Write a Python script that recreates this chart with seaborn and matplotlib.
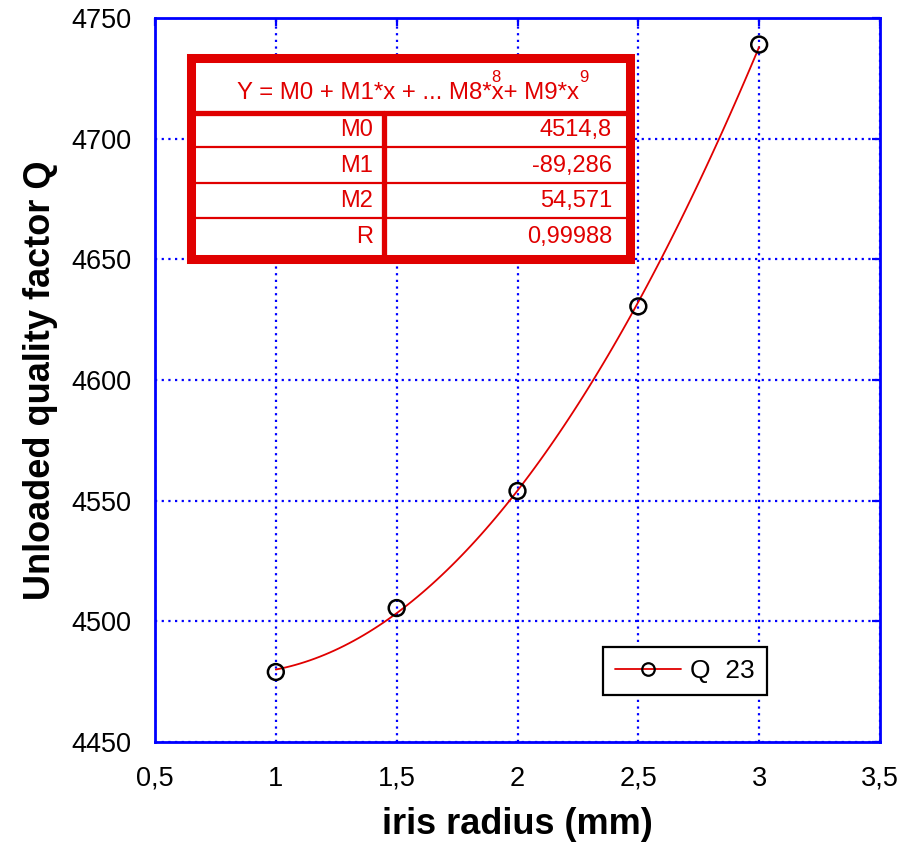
import numpy as np
import pandas as pd
import matplotlib
matplotlib.use("Agg")
import matplotlib.pyplot as plt
from matplotlib.lines import Line2D
from matplotlib.patches import Rectangle
import seaborn as sns

# ---- data ----
iris_radius = [1.0, 1.5, 2.0, 2.5, 3.0]
q_values = [4479.0, 4505.5, 4554.0, 4630.5, 4739.0]
series_name = "Q  23"
fit_labels = ["M0", "M1", "M2", "R"]
fit_values = ["4514,8", "-89,286", "54,571", "0,99988"]
x_ticks = [0.5, 1.0, 1.5, 2.0, 2.5, 3.0, 3.5]
x_ticklabels = ["0,5", "1", "1,5", "2", "2,5", "3", "3,5"]
y_ticks = [4450, 4500, 4550, 4600, 4650, 4700, 4750]

df = pd.DataFrame({"x": iris_radius, "y": q_values})

sns.set_theme(style="white")
plt.rcParams["font.family"] = ["Liberation Sans", "DejaVu Sans"]
plt.rcParams["text.color"] = "black"
plt.rcParams["axes.labelcolor"] = "black"

W, H = 899, 843
fig = plt.figure(figsize=(W / 100, H / 100), dpi=100)
ax = fig.add_axes([155 / W, 1 - 742 / H, (880 - 155) / W, (742 - 18) / H])

BLUE = "#0000ff"
RED = "#e00000"

# fitted curve (2nd order polynomial) through library
sns.regplot(data=df, x="x", y="y", order=2, ci=None, scatter=False, ax=ax,
            line_kws=dict(color=RED, lw=1.3, zorder=3))
sns.scatterplot(data=df, x="x", y="y", ax=ax, marker="o", s=130,
                facecolor="none", edgecolor="black", linewidth=1.8, zorder=4)

ax.set_xlim(0.5, 3.5)
ax.set_ylim(4450, 4750)
ax.set_xticks(x_ticks)
ax.set_xticklabels(x_ticklabels)
ax.set_yticks(y_ticks)
ax.grid(True, color=BLUE, linestyle=(0, (1, 2)), lw=1.6)
for s in ax.spines.values():
    s.set_color(BLUE)
    s.set_linewidth(2)
    s.set_visible(True)
ax.tick_params(axis="both", which="both", direction="in", colors=BLUE,
               length=6, width=1.6, top=True, right=True, labelsize=19.5,
               labelcolor="black", pad=17)

ax.set_xlabel("iris radius (mm)", fontsize=26, fontweight="bold", labelpad=11)
ax.set_ylabel("Unloaded quality factor Q", fontsize=26, fontweight="bold", labelpad=9.5)

# legend
handle = Line2D([], [], color=RED, lw=1.3, marker="o", markersize=9,
                markerfacecolor="none", markeredgecolor="black", markeredgewidth=1.6)
leg = ax.legend([handle], [series_name], loc="upper left",
                bbox_to_anchor=(603 / W, 1 - 647 / H), bbox_transform=fig.transFigure,
                fontsize=19, frameon=True, fancybox=False, framealpha=1,
                handlelength=2.5, borderpad=0.45, handletextpad=0.35, borderaxespad=0)
leg.get_frame().set_edgecolor("black")
leg.get_frame().set_linewidth(1.6)


# fit table
def fx(px):
    return px / W


def fy(py):
    return 1 - py / H

tr = fig.transFigure
L, R_, T, B = 190.5, 630, 58.5, 258.5
fig.patches.append(Rectangle((fx(L), fy(B)), fx(R_) - fx(L), fy(T) - fy(B),
                             transform=tr, fill=True, facecolor="white",
                             edgecolor=RED, lw=6.5, zorder=10))
fig.lines.append(Line2D([fx(L), fx(R_)], [fy(112.5), fy(112.5)], transform=tr,
                        color=RED, lw=3.8, zorder=11))
fig.lines.append(Line2D([fx(383.5), fx(383.5)], [fy(112.5), fy(B)], transform=tr,
                        color=RED, lw=3.8, zorder=11))
for yy in [147, 182.7, 218.3]:
    fig.lines.append(Line2D([fx(L), fx(R_)], [fy(yy), fy(yy)], transform=tr,
                            color=RED, lw=1.6, zorder=11))

fig.text(fx(237), fy(93), "Y = M0 + M1*x + ... M8*x+ M9*x", color=RED, fontsize=17.3,
         ha="left", va="center", zorder=12)
fig.text(fx(496), fy(77), "8", color=RED, fontsize=12, ha="center", va="center", zorder=12)
fig.text(fx(584), fy(77), "9", color=RED, fontsize=12, ha="center", va="center", zorder=12)
row_y = [130, 166, 201, 237]
for lab, val, yy in zip(fit_labels, fit_values, row_y):
    fig.text(fx(373), fy(yy), lab, color=RED, fontsize=17, ha="right", va="center", zorder=12)
    fig.text(fx(612), fy(yy), val, color=RED, fontsize=17, ha="right", va="center", zorder=12)

fig.savefig("out.png", dpi=100)
